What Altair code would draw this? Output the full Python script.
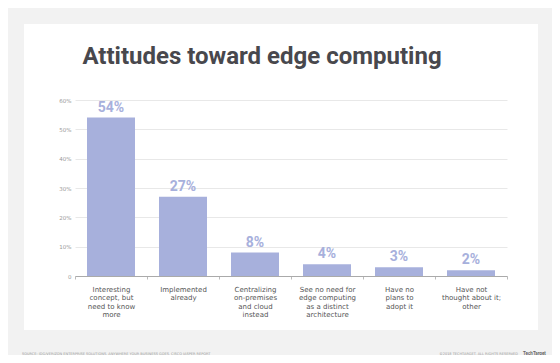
import altair as alt
import pandas as pd

categories = [
    "Interesting|concept, but|need to know|more",
    "Implemented|already",
    "Centralizing|on-premises|and cloud|instead",
    "See no need for|edge computing|as a distinct|architecture",
    "Have no|plans to|adopt it",
    "Have not|thought about it;|other",
]
values = [54, 27, 8, 4, 3, 2]
y_ticks = [0, 10, 20, 30, 40, 50, 60]

title_text = "Attitudes toward edge computing"
source_text = "SOURCE: IDG/VERIZON ENTERPRISE SOLUTIONS, ANYWHERE YOUR BUSINESS GOES, CISCO JASPER REPORT"
copyright_text = "©2018 TECHTARGET. ALL RIGHTS RESERVED"
logo_text = "TechTarget"

df = pd.DataFrame({"category": categories, "value": values})
df["label"] = df["value"].astype(str) + "%"

BAR = "#a7b0dc"
FRAME = "#f2f2f2"

x_enc = alt.X(
    "category:N",
    sort=categories,
    scale=alt.Scale(paddingInner=0, paddingOuter=0),
    axis=alt.Axis(
        title=None,
        labelAngle=0,
        labelExpr="split(datum.label, '|')",
        tickBand="extent",
        labelAlign="center",
        labelBaseline="top",
        labelFont="DejaVu Sans",
        labelFontSize=7,
        labelLineHeight=8.5,
        labelColor="#555555",
        labelPadding=6,
        labelOverlap=False,
        tickSize=3,
        tickColor="#bbbbbb",
        domainColor="#aaaaaa",
        grid=False,
    ),
)

y_enc = alt.Y(
    "value:Q",
    scale=alt.Scale(domain=[0, 60]),
    axis=alt.Axis(
        title=None,
        values=y_ticks,
        labelExpr="datum.value == 0 ? '0' : datum.value + '%'",
        labelFont="DejaVu Sans",
        labelFontSize=5.5,
        labelColor="#999999",
        labelPadding=4,
        labelOverlap=False,
        domain=False,
        ticks=False,
        grid=True,
        gridColor="#e8e8e8",
    ),
)

frame_data = alt.Data(values=[
    {"x1": -67, "x2": 477, "y1": -92, "y2": -76},
    {"x1": -67, "x2": 477, "y1": 230, "y2": 255},
    {"x1": -67, "x2": -51, "y1": -92, "y2": 255},
    {"x1": 463, "x2": 477, "y1": -92, "y2": 255},
])
frame = alt.Chart(frame_data).mark_rect(color=FRAME, clip=False).encode(
    x=alt.X("x1:Q", scale=None), x2="x2:Q", y=alt.Y("y1:Q", scale=None), y2="y2:Q"
)

bars = alt.Chart(df).mark_bar(width=48, color=BAR).encode(x=x_enc, y=y_enc)

labels = alt.Chart(df).mark_text(
    baseline="bottom", dy=-3, font="Roboto", fontSize=14, fontWeight="bold", color=BAR
).encode(x=x_enc, y=y_enc, text="label:N")

deco = alt.Data(values=[{"p": 1}])
title = alt.Chart(deco).mark_text(
    text=title_text, font="Roboto", fontSize=24, fontWeight="bold", color="#48484d",
    align="center", baseline="alphabetic", clip=False
).encode(x=alt.value(187), y=alt.value(-36))

source = alt.Chart(deco).mark_text(
    text=source_text, font="DejaVu Sans", fontSize=3.5, color="#999999",
    align="left", baseline="middle", clip=False
).encode(x=alt.value(-53), y=alt.value(254))

copyright_ = alt.Chart(deco).mark_text(
    text=copyright_text, font="DejaVu Sans", fontSize=3.5, color="#999999",
    align="right", baseline="middle", clip=False
).encode(x=alt.value(443), y=alt.value(254))

logo = alt.Chart(deco).mark_text(
    text=logo_text, font="Roboto", fontSize=4.5, fontWeight="bold", color="#666666",
    align="left", baseline="middle", clip=False
).encode(x=alt.value(448), y=alt.value(254))

chart = alt.layer(bars, labels, frame, title, source, copyright_, logo).properties(
    width=432,
    height=176,
    autosize=alt.AutoSizeParams(type="none"),
    padding={"left": 67, "top": 92, "right": 45, "bottom": 79},
    background="white",
).configure_view(stroke=None)

chart.save("out.html", embed_options={"renderer": "svg", "actions": False})
